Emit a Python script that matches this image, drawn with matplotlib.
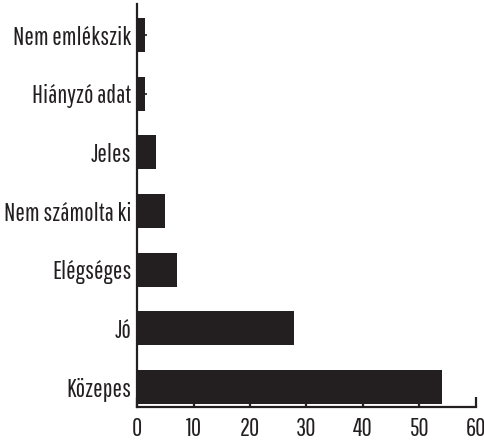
import matplotlib
matplotlib.use("Agg")
import matplotlib.pyplot as plt

categories = ['Közepes', 'Jó', 'Elégséges', 'Nem számolta ki', 'Jeles', 'Hiányzó adat', 'Nem emlékszik']
values = [53.9, 27.8, 7.0, 5.0, 3.4, 1.4, 1.5]
xticks = [0, 10, 20, 30, 40, 50, 60]

plt.rcParams['font.family'] = ['Pathway Gothic One', 'Archivo Narrow', 'DejaVu Sans']
dark = '#231f20'

fig = plt.figure(figsize=(4.85, 4.43), dpi=100)
ax = fig.add_axes([0.2825, 0.0813, 0.6989, 0.9097])

ax.barh(range(len(categories)), values, height=0.58, color=dark)

ax.set_xlim(0, 60)
ax.set_ylim(-0.34, 6.53)
ax.set_xticks(xticks)
ax.set_yticks(range(len(categories)))
ax.set_yticklabels(categories)

for s in ['top', 'right']:
    ax.spines[s].set_visible(False)
for s in ['left', 'bottom']:
    ax.spines[s].set_linewidth(1.6)
    ax.spines[s].set_color(dark)

ax.tick_params(axis='x', direction='in', length=7, width=1.6, color=dark,
               labelsize=18, labelcolor=dark, pad=7)
ax.tick_params(axis='y', direction='in', length=7, width=1.2, color=dark,
               labelsize=18, labelcolor=dark, pad=4)

fig.savefig('out.png', dpi=100)
